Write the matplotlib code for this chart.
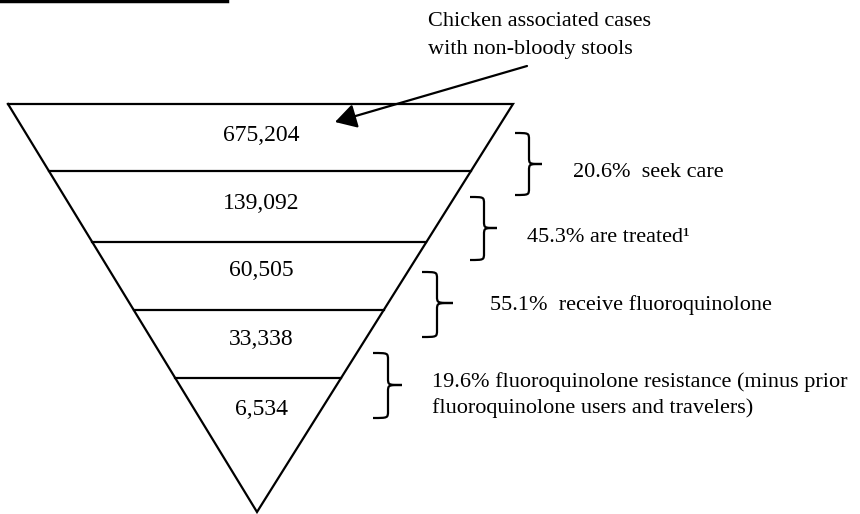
import numpy as np
import matplotlib
matplotlib.use("Agg")
import matplotlib.pyplot as plt
from matplotlib.path import Path
from matplotlib.patches import PathPatch

# Data
counts = ["675,204", "139,092", "60,505", "33,338", "6,534"]
step_pcts = ["20.6%", "45.3%", "55.1%", "19.6%"]
step_labels = [
    "  seek care",
    " are treated\u00b9",
    "  receive fluoroquinolone",
    " fluoroquinolone resistance (minus prior",
]
step_label_extra = "fluoroquinolone users and travelers)"
top_note = ["Chicken associated cases", "with non-bloody stools"]

# Layout (pixel space, y down)
W, H = 860, 514
top_y = 104
top_left, top_right = 8, 513
apex = (257, 512)
band_y = [104, 171, 242, 310, 378]
count_base = [141, 209, 276, 345, 415]
braces = [  # x0, spine, tip, ytop, ybot, ytip
    (515, 529, 542, 133, 195, 164),
    (470, 484, 497, 197, 260, 228),
    (422, 437, 453, 272, 337, 303),
    (373, 388, 402, 353, 418, 385),
]
label_pos = [(573, 177), (527, 242), (490, 310), (432, 387)]

plt.rcParams["font.family"] = ["Liberation Serif", "DejaVu Serif"]

fig = plt.figure(figsize=(W / 100, H / 100), dpi=100)
ax = fig.add_axes([0, 0, 1, 1])
ax.set_xlim(0, W)
ax.set_ylim(H, 0)
ax.axis("off")

lw = 1.6


def left_x(y):
    return np.interp(y, [top_y, apex[1]], [top_left, apex[0]])


def right_x(y):
    return np.interp(y, [top_y, apex[1]], [top_right, apex[0]])


# funnel outline
ax.plot([top_left, apex[0], top_right, top_left],
        [top_y, apex[1], top_y, top_y], color="black", lw=lw,
        solid_joinstyle="miter")
for y in band_y[1:]:
    ax.plot([left_x(y), right_x(y)], [y, y], color="black", lw=lw)

cx = 261
for c, yb in zip(counts, count_base):
    ax.text(cx, yb, c, ha="center", va="baseline", fontsize=17)


def draw_brace(x0, xm, xt, y0, y1, yt, r=7):
    verts = [
        (x0, y0),
        (xm, y0), (xm, y0), (xm, y0 + r),
        (xm, yt - r),
        (xm, yt), (xm, yt), (xt, yt),
        (xm, yt), (xm, yt), (xm, yt + r),
        (xm, y1 - r),
        (xm, y1), (xm, y1), (x0, y1),
    ]
    codes = [Path.MOVETO,
             Path.CURVE4, Path.CURVE4, Path.CURVE4,
             Path.LINETO,
             Path.CURVE4, Path.CURVE4, Path.CURVE4,
             Path.CURVE4, Path.CURVE4, Path.CURVE4,
             Path.LINETO,
             Path.CURVE4, Path.CURVE4, Path.CURVE4]
    ax.add_patch(PathPatch(Path(verts, codes), fill=False, lw=lw,
                           edgecolor="black"))


for b in braces:
    draw_brace(*b)

fs = 16.0
for (x, yb), p, lab in zip(label_pos, step_pcts, step_labels):
    ax.text(x, yb, p + lab, ha="left", va="baseline", fontsize=fs)
ax.text(label_pos[3][0], 413, step_label_extra, ha="left", va="baseline",
        fontsize=fs)

# top note with arrow
ax.text(428, 26, top_note[0], ha="left", va="baseline", fontsize=fs)
ax.text(428, 54, top_note[1], ha="left", va="baseline", fontsize=fs)
ax.annotate("", xy=(335, 122), xytext=(527, 66),
            arrowprops=dict(arrowstyle="-|>,head_length=1.3,head_width=0.75",
                            mutation_scale=10, lw=lw, color="black",
                            shrinkA=0, shrinkB=0))

# clipped underline of a heading above the chart
ax.plot([0, 227], [1, 1], color="black", lw=2.5)

fig.savefig("out.png", dpi=100)
